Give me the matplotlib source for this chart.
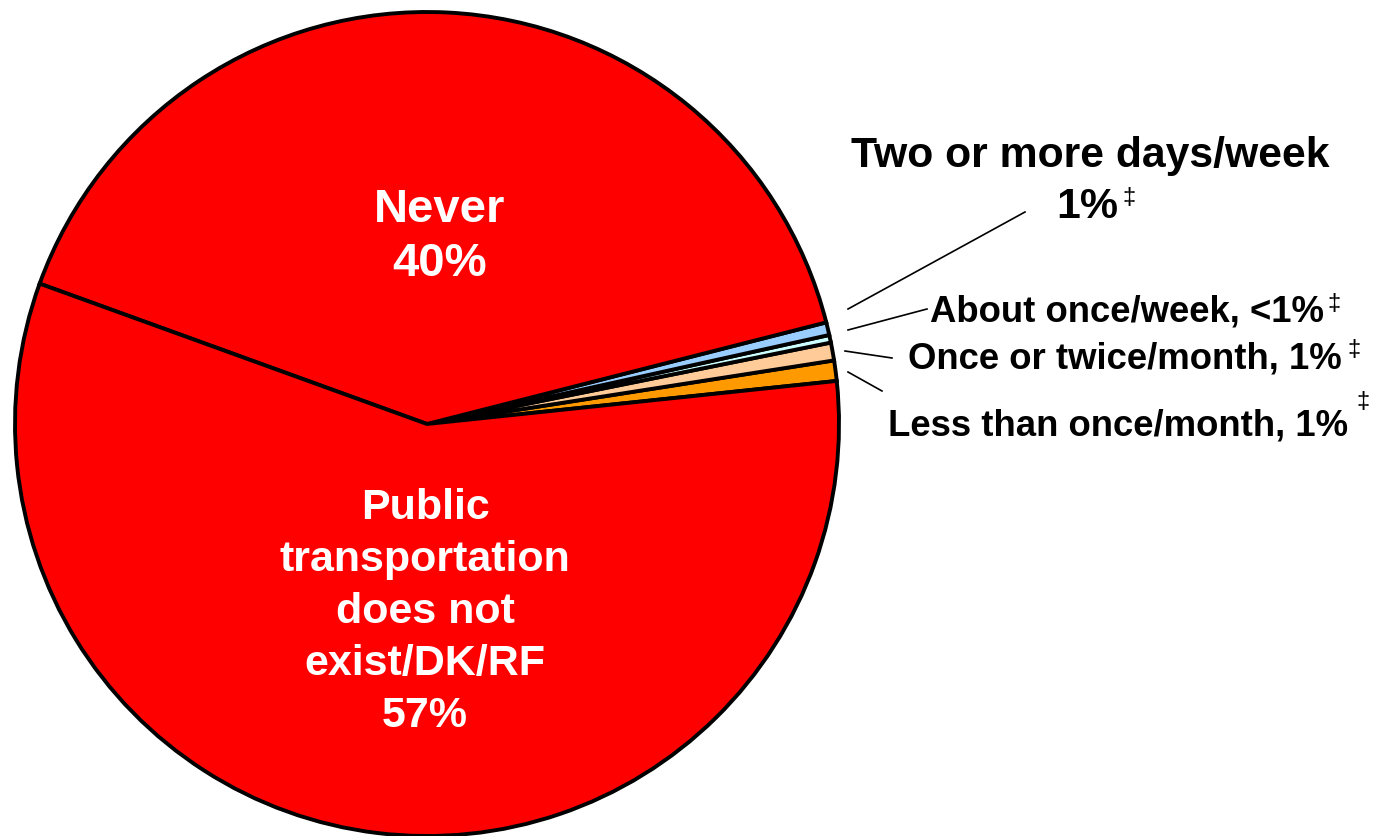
import matplotlib
matplotlib.use("Agg")
import matplotlib.pyplot as plt

# ---- data (pie order: counter-clockwise starting at the right) ----
categories = ["Less than once/month", "Once or twice/month", "About once/week",
              "Two or more days/week", "Never",
              "Public transportation does not exist/DK/RF"]
values = [0.8, 0.7, 0.3, 0.5, 40.5, 57.2]
colors = ["#FF9900", "#FFCC99", "#CCFFFF", "#99CCFF", "#FF0000", "#FF0000"]

W, H = 1376, 837
fig = plt.figure(figsize=(W / 100, H / 100), dpi=100)
ax = fig.add_axes([0, 0, 1, 1])

def Y(y):
    return H - y

cx, cy, r = 427, 425, 412
ax.pie(values, colors=colors, startangle=6.0, counterclock=True,
       center=(cx, Y(cy)), radius=r, frame=True,
       wedgeprops=dict(edgecolor="black", linewidth=2.8))
ax.set_xlim(0, W)
ax.set_ylim(0, H)
ax.set_aspect("equal")
ax.axis("off")

fam = ["Liberation Sans", "DejaVu Sans"]

# inside labels
ax.text(440, Y(237), "Never\n40%", color="white", fontsize=34, fontweight="bold",
        family=fam, ha="center", va="center", linespacing=1.32)
ax.text(425, Y(612), "Public\ntransportation\ndoes not\nexist/DK/RF\n57%", color="white",
        fontsize=31, fontweight="bold", family=fam, ha="center", va="center",
        linespacing=1.38)

# outside labels
ax.text(1090, Y(156), "Two or more days/week", fontsize=30.8, fontweight="bold",
        family=fam, ha="center", va="center")
ax.text(1087, Y(207), "1%", fontsize=30.8, fontweight="bold", family=fam,
        ha="center", va="center")
ax.text(1122, Y(198), "\u2021", fontsize=17, family=fam, ha="left", va="center")

ax.text(930, Y(312), "About once/week, <1%", fontsize=26.3, fontweight="bold",
        family=fam, ha="left", va="center")
ax.text(1327, Y(304), "\u2021", fontsize=17, family=fam, ha="left", va="center")

ax.text(908, Y(359), "Once or twice/month, 1%", fontsize=26.3, fontweight="bold",
        family=fam, ha="left", va="center")
ax.text(1347, Y(350), "\u2021", fontsize=17, family=fam, ha="left", va="center")

ax.text(888, Y(426), "Less than once/month, 1%", fontsize=26.3, fontweight="bold",
        family=fam, ha="left", va="center")
ax.text(1356, Y(402), "\u2021", fontsize=17, family=fam, ha="left", va="center")

# leader lines
leaders = [((848, 310), (1025, 213)),
           ((848, 331), (927, 310)),
           ((845, 352), (892, 359)),
           ((848, 373), (882, 392))]
for (x0, y0), (x1, y1) in leaders:
    ax.plot([x0, x1], [Y(y0), Y(y1)], color="black", linewidth=1.2)

fig.savefig("out.png", dpi=100)
